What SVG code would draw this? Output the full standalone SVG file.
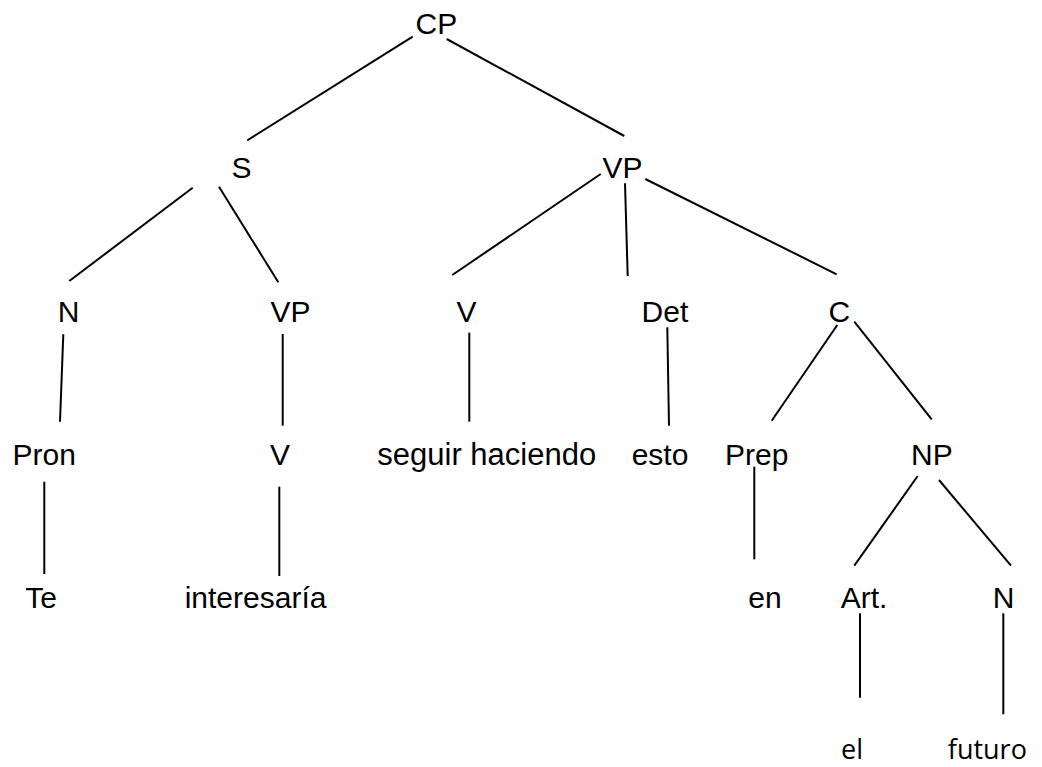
<svg xmlns="http://www.w3.org/2000/svg" width="1042" height="767" viewBox="0 0 1042 767">
  <style>
    .lbl { font-family: "Liberation Sans", Arial, sans-serif; font-size: 30px; fill: #000; }
    .wide { font-size: 31px; }
    .leaf2 { font-family: "Open Sans", "Noto Sans", sans-serif; font-size: 27px; fill: #000; }
    .edges line { stroke: #000; stroke-width: 2; stroke-linecap: butt; }
  </style>
  <rect width="1042" height="767" fill="#fff"/>

  <!-- branches -->
  <g id="connectors" class="edges">
    <line x1="412.7" y1="36.7" x2="247.3" y2="140.3"/>
    <line x1="446.7" y1="39" x2="624.3" y2="136"/>
    <line x1="192.7" y1="187.7" x2="69.3" y2="281"/>
    <line x1="219" y1="186.7" x2="278.3" y2="282.3"/>
    <line x1="600.7" y1="174" x2="452.3" y2="275"/>
    <line x1="625" y1="183.3" x2="627.7" y2="276"/>
    <line x1="645.3" y1="179" x2="836.7" y2="274.3"/>
    <line x1="63.3" y1="334.3" x2="60" y2="421.7"/>
    <line x1="282.7" y1="334" x2="282.7" y2="425.7"/>
    <line x1="469.3" y1="332.7" x2="469.3" y2="421.7"/>
    <line x1="667.3" y1="327.3" x2="669" y2="425.7"/>
    <line x1="837.3" y1="325" x2="771.7" y2="420.7"/>
    <line x1="854.3" y1="321.7" x2="931.7" y2="419.3"/>
    <line x1="44.3" y1="481.7" x2="44.3" y2="574"/>
    <line x1="279.3" y1="486.7" x2="279.3" y2="576"/>
    <line x1="754.3" y1="466.7" x2="754.3" y2="559.3"/>
    <line x1="917.7" y1="476" x2="854.3" y2="565.7"/>
    <line x1="939" y1="480" x2="1011" y2="565.7"/>
    <line x1="860" y1="613.3" x2="860" y2="697.7"/>
    <line x1="1003.3" y1="613.3" x2="1003.3" y2="714.3"/>
  </g>

  <!-- level 0 -->
  <g id="n-cp"><text class="lbl" x="415.5" y="34">CP</text></g>
  <!-- level 1 -->
  <g id="n-s"><text class="lbl" x="231.5" y="178">S</text></g>
  <g id="n-vp1"><text class="lbl" x="602.5" y="178">VP</text></g>
  <!-- level 2 -->
  <g id="n-n1"><text class="lbl" x="57.7" y="321.7">N</text></g>
  <g id="n-vp2"><text class="lbl" x="270.5" y="321.7">VP</text></g>
  <g id="n-v1"><text class="lbl" x="456.5" y="321.7">V</text></g>
  <g id="n-det"><text class="lbl" x="641.6" y="321.7">Det</text></g>
  <g id="n-c"><text class="lbl" x="828.5" y="321.7">C</text></g>
  <!-- level 3 -->
  <g id="n-pron"><text class="lbl" x="12.6" y="464.5">Pron</text></g>
  <g id="n-v2"><text class="lbl" x="270" y="464.5">V</text></g>
  <g id="n-seguir"><text class="lbl wide" x="377.3" y="464.5">seguir haciendo</text></g>
  <g id="n-esto"><text class="lbl" x="631.7" y="464.5">esto</text></g>
  <g id="n-prep"><text class="lbl" x="725" y="464.5">Prep</text></g>
  <g id="n-np"><text class="lbl" x="911" y="464.5">NP</text></g>
  <!-- level 4 -->
  <g id="n-te"><text class="lbl" x="25.3" y="608.3">Te</text></g>
  <g id="n-interesaria"><text class="lbl" x="184.7" y="608.3">interesaría</text></g>
  <g id="n-en"><text class="lbl" x="748.3" y="608.3">en</text></g>
  <g id="n-art"><text class="lbl" x="840.7" y="608.3">Art.</text></g>
  <g id="n-n2"><text class="lbl" x="992.7" y="608.3">N</text></g>
  <!-- level 5 -->
  <g id="n-el"><text class="leaf2" x="841" y="759">el</text></g>
  <g id="n-futuro"><text class="leaf2" x="947.8" y="759">futuro</text></g>
</svg>
